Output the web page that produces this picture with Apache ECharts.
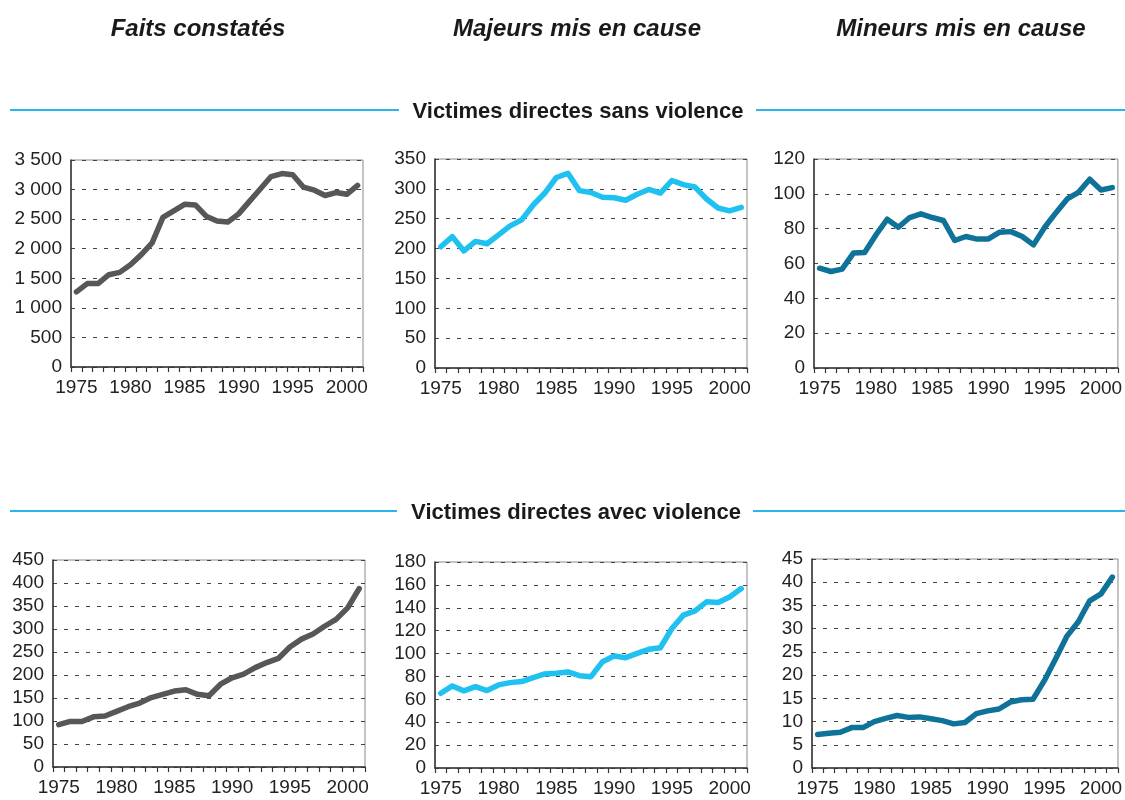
<!DOCTYPE html>
<html>
<head>
<meta charset="utf-8">
<script src="https://cdn.jsdelivr.net/npm/echarts@6/dist/echarts.min.js"></script>
<style>
html,body{margin:0;padding:0;background:#fff;}
#c{width:1125px;height:800px;}
</style>
</head>
<body>
<div id="c"></div>
<script>
// ---- data ----
const years = ['1975','1976','1977','1978','1979','1980','1981','1982','1983','1984','1985','1986','1987','1988','1989','1990','1991','1992','1993','1994','1995','1996','1997','1998','1999','2000','2001'];
const columnTitles = ['Faits constatés', 'Majeurs mis en cause', 'Mineurs mis en cause'];
const sectionTitles = ['Victimes directes sans violence', 'Victimes directes avec violence'];

// Victimes directes sans violence
const faitsSans   = [1270,1410,1410,1560,1600,1730,1900,2100,2530,2640,2750,2740,2550,2470,2450,2590,2800,3010,3220,3270,3250,3040,2990,2900,2950,2920,3070];
const majeursSans = [203,220,196,212,208,223,238,248,273,293,319,326,297,294,286,285,281,291,299,293,314,307,303,283,268,263,269];
const mineursSans = [57.3,55.4,56.8,66,66.3,76.4,85.4,80.8,86.4,88.5,86.4,84.7,73.2,75.5,74,74.1,78,78.3,75.5,70.7,80.8,89.2,97.1,100.9,108.4,102.2,103.6];

// Victimes directes avec violence
const faitsAvec   = [92,99,99,109,111,121,131,139,151,158,165,168,158,155,180,194,202,216,227,236,261,278,289,306,321,346,388];
const majeursAvec = [65.3,71.7,67.4,71.1,67.7,72.6,74.6,75.5,79,82.2,82.8,83.9,80.7,79.8,92.9,97.8,96.4,100.2,103.7,105.1,121.9,133.6,137.3,145.2,144.6,149.5,156.8];
const mineursAvec = [7.2,7.5,7.7,8.7,8.7,10.0,10.7,11.3,10.9,11.0,10.6,10.2,9.5,9.8,11.7,12.3,12.7,14.2,14.7,14.8,18.8,23.5,28.4,31.5,36.0,37.5,41.1];

// y axis scales [max, interval]
const yScales = [[3500,500],[350,50],[120,20],[450,50],[180,20],[45,5]];
const seriesData = [faitsSans, majeursSans, mineursSans, faitsAvec, majeursAvec, mineursAvec];

// ---- layout / style ----
const colors = ['#575757', '#1ec1f0', '#0f7399', '#575757', '#1ec1f0', '#0f7399'];
const grids = [
  {left:71,  top:160, width:292, height:207},
  {left:435, top:159, width:312, height:209},
  {left:814, top:159, width:311, height:209},
  {left:53,  top:560, width:312, height:207},
  {left:435, top:562, width:312, height:206},
  {left:812, top:559, width:313, height:209}
];
const FONT = 'Liberation Sans, Arial, Helvetica, sans-serif';

function fmt(v){
  return String(v).replace(/\B(?=(\d{3})+(?!\d))/g, ' ');
}

const chart = echarts.init(document.getElementById('c'), null, {renderer:'canvas'});

const colTitle = {fontFamily:FONT, fontSize:24, fontWeight:'bold', fontStyle:'italic', color:'#1a1a1a'};
const secTitle = {fontFamily:FONT, fontSize:22, fontWeight:'bold', color:'#1a1a1a'};

const option = {
  animation:false,
  backgroundColor:'#fff',
  title: [
    {text: columnTitles[0], left:193, top:12, textAlign:'center', textStyle:colTitle},
    {text: columnTitles[1], left:572, top:12, textAlign:'center', textStyle:colTitle},
    {text: columnTitles[2], left:956, top:12, textAlign:'center', textStyle:colTitle},
    {text: sectionTitles[0], left:573, top:96, textAlign:'center', textStyle:secTitle},
    {text: sectionTitles[1], left:571, top:497, textAlign:'center', textStyle:secTitle}
  ],
  graphic: [
    {type:'line', shape:{x1:10, y1:110, x2:399, y2:110}, style:{stroke:'#2ab6ea', lineWidth:2}},
    {type:'line', shape:{x1:756, y1:110, x2:1125, y2:110}, style:{stroke:'#2ab6ea', lineWidth:2}},
    {type:'line', shape:{x1:10, y1:511, x2:397, y2:511}, style:{stroke:'#2ab6ea', lineWidth:2}},
    {type:'line', shape:{x1:753, y1:511, x2:1125, y2:511}, style:{stroke:'#2ab6ea', lineWidth:2}}
  ],
  grid: grids.map(g => Object.assign({show:true, borderColor:'#8a8a8a', borderWidth:1, backgroundColor:'transparent'}, g)),
  xAxis: grids.map((g,i) => ({
    type:'category', gridIndex:i, data:years, boundaryGap:true,
    axisLine:{show:true, lineStyle:{color:'#333', width:1.5}},
    axisTick:{show:true, interval:0, length:5, inside:false, lineStyle:{color:'#333', width:1.2}},
    axisLabel:{
      interval:(idx, val) => Number(val) % 5 === 0,
      margin:11, fontFamily:FONT, fontSize:19, color:'#222'
    },
    splitLine:{show:false}
  })),
  yAxis: yScales.map((s,i) => ({
    type:'value', gridIndex:i, min:0, max:s[0], interval:s[1],
    axisLine:{show:true, lineStyle:{color:'#333', width:1.5}},
    axisTick:{show:false},
    axisLabel:{formatter:fmt, margin:9, fontFamily:FONT, fontSize:19, color:'#222'},
    splitLine:{show:true, lineStyle:{color:'#444', width:1, type:[4,7]}}
  })),
  series: seriesData.map((d,i) => ({
    type:'line', xAxisIndex:i, yAxisIndex:i, data:d,
    symbol:'none', smooth:false,
    lineStyle:{color:colors[i], width:5.5, cap:'round', join:'round'}
  }))
};
chart.setOption(option);
</script>
</body>
</html>
